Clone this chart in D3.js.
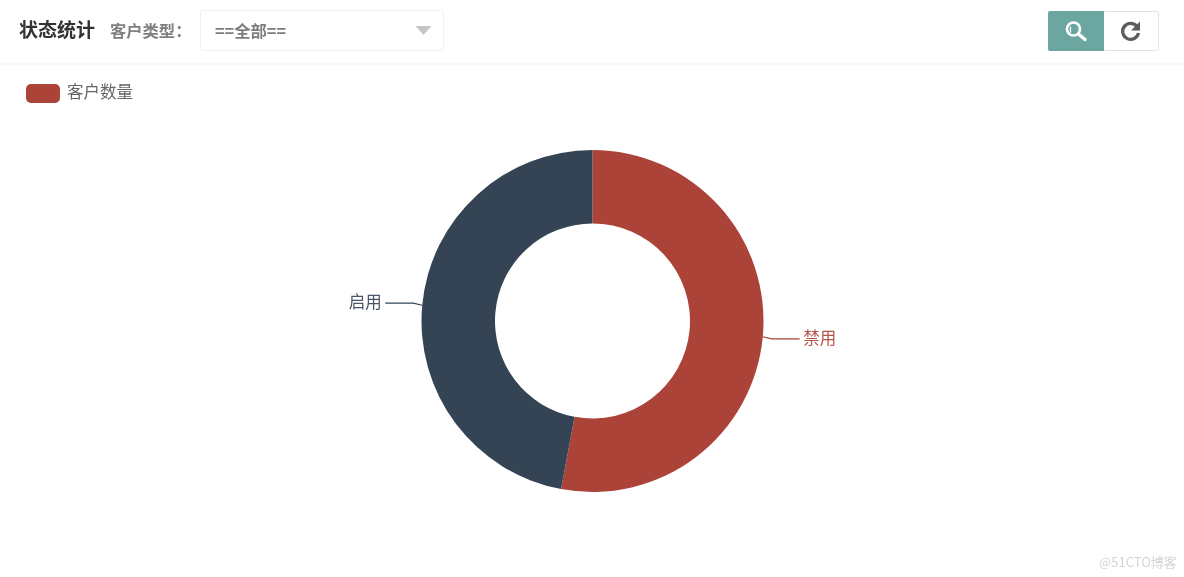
<!DOCTYPE html>
<html><head><meta charset="utf-8">
<script src="https://cdnjs.cloudflare.com/ajax/libs/d3/7.8.5/d3.min.js"></script>
<style>html,body{margin:0;padding:0;background:#fff;overflow:hidden}svg{display:block;filter:blur(0.35px)}
text{font-family:"Noto Sans CJK SC","Noto Sans",sans-serif}</style></head>
<body><svg id="c" width="1184" height="577"></svg>
<script>
const categories = ["禁用", "启用"];
const values = [9, 8];
const colors = ["#ab4339", "#344454"];
const legendLabel = "客户数量";
const titleText = "状态统计";
const filterLabel = "客户类型：";
const selectText = "==全部==";
const watermark = "@51CTO博客";

const svg = d3.select("#c");
const W = 1184, cx = 592.5, cy = 321, R = 171, r = 97.5;

// toolbar
svg.append("line").attr("x1",0).attr("x2",W).attr("y1",64).attr("y2",64).attr("stroke","#f0f0f0");
svg.append("text").attr("x",19).attr("y",37).attr("font-size",19).attr("font-weight",700).attr("fill","#333").text(titleText);
svg.append("text").attr("x",110).attr("y",37).attr("font-size",16.3).attr("font-weight",700).attr("fill","#807f7d").text(filterLabel);
svg.append("rect").attr("x",200.5).attr("y",10.5).attr("width",243).attr("height",40).attr("rx",2).attr("fill","#fff").attr("stroke","#f0f0f0");
svg.append("text").attr("x",215).attr("y",36.5).attr("font-size",16.3).attr("font-weight",700).attr("fill","#7d7d7d").text(selectText);
svg.append("path").attr("d","M415.5 26H431.5L423.5 35Z").attr("fill","#c6c6c6");

// buttons
svg.append("rect").attr("x",1103.5).attr("y",11.5).attr("width",55).attr("height",39).attr("rx",2).attr("fill","#fff").attr("stroke","#e2e2e2");
svg.append("path").attr("d","M1048 13a2 2 0 0 1 2-2H1104V51H1050a2 2 0 0 1-2-2Z").attr("fill","#6ba7a0");
svg.append("circle").attr("cx",1073.5).attr("cy",29).attr("r",6.5).attr("fill","none").attr("stroke","#fff").attr("stroke-width",2.6);
svg.append("path").attr("d","M1079 34.5L1085 39.5").attr("stroke","#fff").attr("stroke-width",3.4).attr("stroke-linecap","round");
svg.append("path").attr("d","M1070.5 26.5v6").attr("stroke","#fff").attr("stroke-width",1.2);
svg.append("path").attr("d","M1137 26.5A8 8 0 1 0 1138.5 33").attr("fill","none").attr("stroke","#5c5c5c").attr("stroke-width",3.2);
svg.append("path").attr("d","M1140 21.5V30.5H1131Z").attr("fill","#5c5c5c");

// legend
svg.append("rect").attr("x",26).attr("y",84).attr("width",34).attr("height",19).attr("rx",5).attr("fill",colors[0]);
svg.append("text").attr("x",67).attr("y",98).attr("font-size",16.5).attr("fill","#666").text(legendLabel);

// donut
const pie = d3.pie().value(d=>d).sort(null);
const arc = d3.arc().innerRadius(r).outerRadius(R);
const arcs = pie(values);
const g = svg.append("g").attr("transform",`translate(${cx},${cy})`);
g.selectAll("path.s").data(arcs).join("path").attr("class","s").attr("d",arc).attr("fill",(d,i)=>colors[i]);

// leader lines and labels, derived from the arc angles
arcs.forEach((d,i)=>{
  const a = (d.startAngle+d.endAngle)/2;
  const sx = Math.sin(a), cyy = -Math.cos(a);
  const dir = sx>0?1:-1;
  const vdir = cyy>0?1:-1;
  const p0=[R*sx,R*cyy], p1=[(R+9)*sx,(R+9)*cyy+vdir*1.3], p2=[p1[0]+dir*28,p1[1]];
  g.append("path").attr("d",d3.line()([p0,p1,p2])).attr("fill","none").attr("stroke",colors[i]).attr("stroke-width",1.2);
  g.append("text").attr("x",p2[0]+dir*3.5).attr("y",p2[1]+5).attr("text-anchor",dir>0?"start":"end")
   .attr("font-size",16.5).attr("fill",colors[i]).attr("fill-opacity",0.9).text(categories[i]);
});

svg.append("text").attr("x",1099).attr("y",567).attr("font-size",13).attr("fill","#d4d4d4").text(watermark);
</script></body></html>
